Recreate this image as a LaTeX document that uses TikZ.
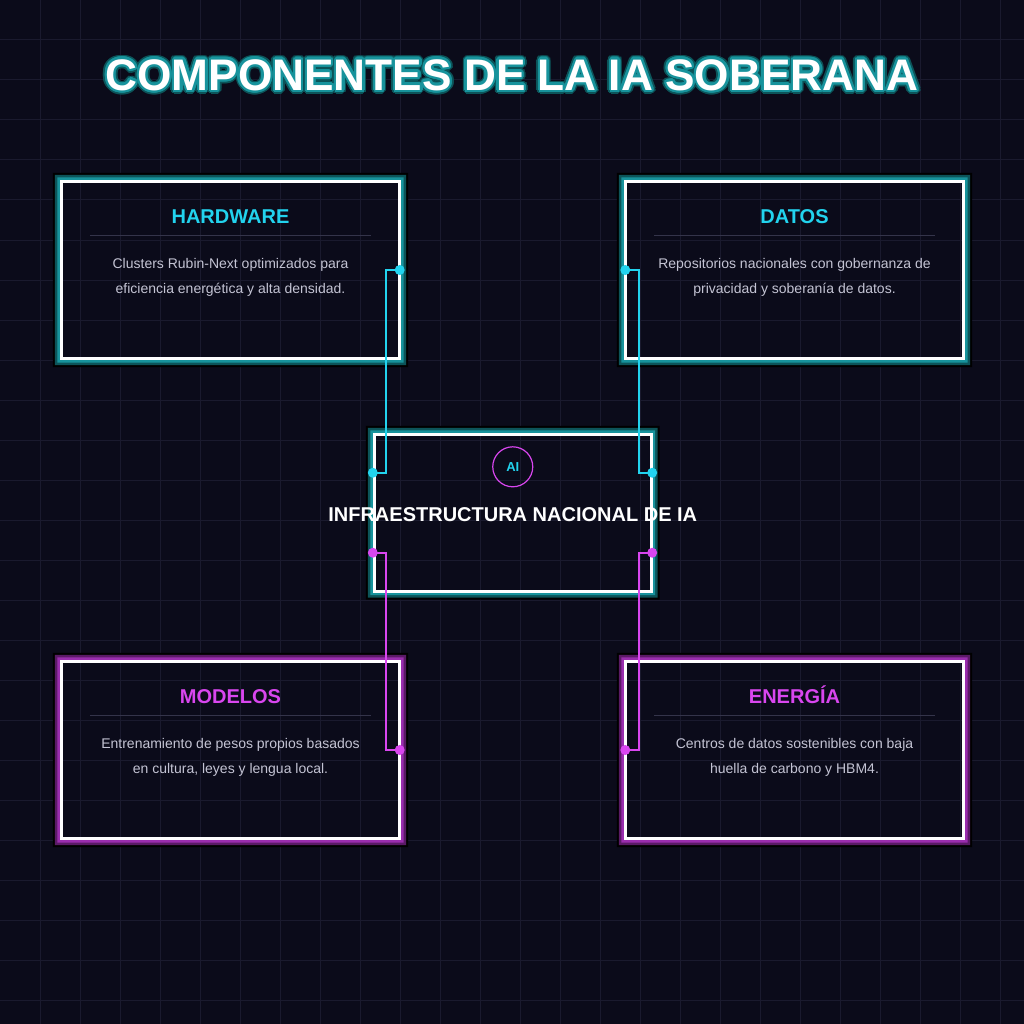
\documentclass[tikz,border=0pt]{standalone}
\usepackage{fontspec}
\setmainfont{Liberation Sans}
\usetikzlibrary{calc}
\definecolor{iabg}{HTML}{0B0B1A}
\definecolor{iagrid}{HTML}{1A1A2E}
\definecolor{iacyan}{HTML}{22D3EE}
\definecolor{iamagenta}{HTML}{D946EF}
\definecolor{iateal}{HTML}{17939C}
\definecolor{iatealdark}{HTML}{0C5459}
\definecolor{iapurple}{HTML}{9A2DAE}
\definecolor{iapurpledark}{HTML}{5A1A66}
\definecolor{iarule}{HTML}{34344A}
\definecolor{iatext}{HTML}{C4C4D4}

\begin{document}
\begin{tikzpicture}[x=1pt, y=-1pt,
    card/.style={rectangle, inner sep=0pt, minimum width=338pt, minimum height=177pt},
    hub/.style={card, minimum width=276.5pt, minimum height=156.5pt},
    cardline/.style={draw=white, line width=3pt},
    gridline/.style={draw=iagrid, line width=1pt},
    headline/.style={font=\bfseries\fontsize{44.2}{44.2}\selectfont},
    cardtitle/.style={font=\bfseries\fontsize{20}{20}\selectfont},
    carddesc/.style={text=iatext, align=center, font=\fontsize{14}{25}\selectfont},
    sepline/.style={draw=iarule, line width=1pt},
    wire/.style={draw=#1, line width=2pt},
    pin/.style={fill=#1}
  ]
    \useasboundingbox (0,0) rectangle (1024,1024);
    \fill[iabg] (0,0) rectangle (1024,1024);
    \foreach \g in {40,80,...,1000} {
      \draw[gridline] (\g,0) -- (\g,1024);
      \draw[gridline] (0,\g) -- (1024,\g);
    }

    \coordinate (titlepos) at (512,75);
    \foreach \a in {0,20,...,340}
      \node[headline, text=iatealdark] at ($(titlepos)+(\a:4)$) {COMPONENTES DE LA IA SOBERANA};
    \foreach \a in {0,20,...,340}
      \node[headline, text=iateal] at ($(titlepos)+(\a:2.3)$) {COMPONENTES DE LA IA SOBERANA};
    \node[headline, text=white] (title) at (titlepos) {COMPONENTES DE LA IA SOBERANA};

    \node[card] (hw) at (230.5,270)  {};
    \node[card] (dt) at (794.5,270)  {};
    \node[card] (md) at (230.5,750)  {};
    \node[card] (en) at (794.5,750)  {};
    \node[hub]  (ia) at (512.75,512.75) {};

    \foreach \n/\m/\d in {hw/iateal/iatealdark, dt/iateal/iatealdark, ia/iateal/iatealdark,
                          md/iapurple/iapurpledark, en/iapurple/iapurpledark} {
      \foreach \r/\c in {8.5/black, 6.5/\d, 4/\m}
        \fill[\c, even odd rule] ($(\n.north west)+(-\r,-\r)$) rectangle ($(\n.south east)+(\r,\r)$)
                                 ($(\n.north west)+(-1.5,-1.5)$) rectangle ($(\n.south east)+(1.5,1.5)$);
      \draw[cardline] (\n.north west) rectangle (\n.south east);
    }

    \foreach \n/\t/\c/\body in {
        hw/HARDWARE/iacyan/{Clusters Rubin-Next optimizados para\\eficiencia energética y alta densidad.},
        dt/DATOS/iacyan/{Repositorios nacionales con gobernanza de\\privacidad y soberanía de datos.},
        md/MODELOS/iamagenta/{Entrenamiento de pesos propios basados\\en cultura, leyes y lengua local.},
        en/ENERGÍA/iamagenta/{Centros de datos sostenibles con baja\\huella de carbono y HBM4.}} {
      \node[cardtitle, text=\c, anchor=base] (\n-title) at ($(\n.north)+(0,42.5)$) {\t};
      \draw[sepline] ($(\n.north west)+(28.5,54)$) -- ($(\n.north east)+(-28.5,54)$);
      \node[carddesc] (\n-desc) at ($(\n.north)+(0,96)$) {\body};
    }

    \node[circle, draw=iamagenta, line width=1.2pt, minimum size=40pt, inner sep=0pt,
          text=iacyan, font=\bfseries\fontsize{13}{13}\selectfont] (badge) at ($(ia.north)+(0,32.5)$) {AI};
    \node[cardtitle, text=white] (hubtitle) at ($(ia.center)+(0,1.5)$) {INFRAESTRUCTURA NACIONAL DE IA};

    \coordinate (ia-nw) at ($(ia.west)+(-1.5,-40)$);
    \coordinate (ia-ne) at ($(ia.east)+(1,-40)$);
    \coordinate (ia-sw) at ($(ia.west)+(-1.5,40)$);
    \coordinate (ia-se) at ($(ia.east)+(1,40)$);

    \draw[wire=iacyan] (hw.east) -- ++(-13.5,0) |- (ia-nw);
    \draw[wire=iacyan] (dt.west) -- ++(13.5,0) |- (ia-ne);
    \draw[wire=iamagenta] (ia-sw) -- ++(13.5,0) |- (md.east);
    \draw[wire=iamagenta] (ia-se) -- ++(-13.5,0) |- (en.west);

    \foreach \p in {hw.east, dt.west, ia-nw, ia-ne}
      \fill[pin=iacyan] (\p) circle (5);
    \foreach \p in {md.east, en.west, ia-sw, ia-se}
      \fill[pin=iamagenta] (\p) circle (5);
  \end{tikzpicture}
\end{document}
